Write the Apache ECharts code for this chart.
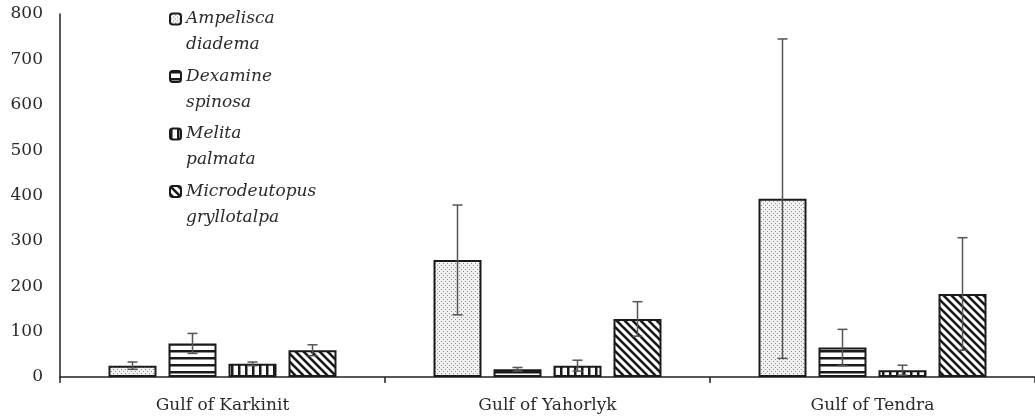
<!DOCTYPE html>
<html>
<head>
<meta charset="utf-8">
<script src="https://cdn.jsdelivr.net/npm/echarts@6/dist/echarts.min.js"></script>
<style>
html,body{margin:0;padding:0;background:#fff;}
#chart{width:1035px;height:420px;}
</style>
</head>
<body>
<div id="chart"></div>
<script>
const categories = ['Gulf of Karkinit', 'Gulf of Yahorlyk', 'Gulf of Tendra'];
const seriesNames = ['Ampelisca diadema', 'Dexamine spinosa', 'Melita palmata', 'Microdeutopus gryllotalpa'];
const ampelisca = [25, 258, 393];
const dexamine = [74, 17, 65];
const melita = [29, 25, 15];
const microdeutopus = [59, 128, 183];
const ampeliscaSd = [8, 121, 352];
const dexamineSd = [22, 4, 40];
const melitaSd = [4, 12, 11];
const microdeutopusSd = [12, 38, 124];
const yTicks = [0, 100, 200, 300, 400, 500, 600, 700, 800];

const values = [ampelisca, dexamine, melita, microdeutopus];
const sds = [ampeliscaSd, dexamineSd, melitaSd, microdeutopusSd];

function makePattern(kind) {
  const c = document.createElement('canvas');
  const ctx = c.getContext('2d');
  if (kind === 'dots') {
    c.width = 4; c.height = 4;
    ctx.fillStyle = '#f2f2f2'; ctx.fillRect(0, 0, 4, 4);
    ctx.fillStyle = '#8a8a8a';
    ctx.fillRect(1, 1, 1, 1); ctx.fillRect(3, 3, 1, 1);
  } else if (kind === 'hstripe') {
    c.width = 6; c.height = 7;
    ctx.fillStyle = '#fff'; ctx.fillRect(0, 0, 6, 7);
    ctx.fillStyle = '#1a1a1a'; ctx.fillRect(0, 0, 6, 2.5);
  } else if (kind === 'vstripe') {
    c.width = 7; c.height = 6;
    ctx.fillStyle = '#fff'; ctx.fillRect(0, 0, 7, 6);
    ctx.fillStyle = '#1a1a1a'; ctx.fillRect(0, 0, 2.5, 6);
  } else {
    const s = 8;
    c.width = s; c.height = s;
    ctx.fillStyle = '#fff'; ctx.fillRect(0, 0, s, s);
    ctx.strokeStyle = '#1a1a1a'; ctx.lineWidth = 2.6;
    ctx.beginPath();
    ctx.moveTo(-s, 0); ctx.lineTo(s, 2 * s);
    ctx.moveTo(0, 0); ctx.lineTo(s, s);
    ctx.moveTo(0, -s); ctx.lineTo(2 * s, s);
    ctx.stroke();
  }
  return { image: c, repeat: 'repeat' };
}
const patterns = [makePattern('dots'), makePattern('hstripe'), makePattern('vstripe'), makePattern('diag')];

const BAR_W = 48, BAR_GAP = 12;
const serif = "'DejaVu Serif', 'Liberation Serif', serif";
const textColor = '#2b2b2b';

const series = [];
seriesNames.forEach((name, i) => {
  series.push({
    name: name,
    type: 'bar',
    barWidth: BAR_W,
    barGap: (BAR_GAP / BAR_W * 100) + '%',
    data: values[i],
    itemStyle: { color: patterns[i], borderColor: '#1a1a1a', borderWidth: 2 },
    emphasis: { disabled: true }
  });
});
seriesNames.forEach((name, i) => {
  series.push({
    name: name + ' error',
    type: 'custom',
    data: values[i].map((v, k) => [k, v, sds[i][k]]),
    z: 5,
    renderItem: function (params, api) {
      const x = api.value(0), v = api.value(1), sd = api.value(2);
      const off = (i - 1.5) * (BAR_W + BAR_GAP);
      const top = api.coord([x, v + sd]);
      const bot = api.coord([x, Math.max(v - sd, 0)]);
      const cx = top[0] + off;
      const half = 5;
      const st = { stroke: '#555', lineWidth: 1.5 };
      return {
        type: 'group',
        children: [
          { type: 'line', shape: { x1: cx, y1: top[1], x2: cx, y2: bot[1] }, style: st },
          { type: 'line', shape: { x1: cx - half, y1: top[1], x2: cx + half, y2: top[1] }, style: st },
          { type: 'line', shape: { x1: cx - half, y1: bot[1], x2: cx + half, y2: bot[1] }, style: st }
        ]
      };
    }
  });
});

const legendText = { fontFamily: serif, fontStyle: 'italic', fontSize: 17, color: textColor, lineHeight: 26 };
const legendBase = {
  data: seriesNames,
  orient: 'vertical',
  left: 164,
  itemWidth: 11,
  itemHeight: 11,
  itemGap: 31.5,
  selectedMode: false,
  textStyle: legendText
};

const chart = echarts.init(document.getElementById('chart'));
chart.setOption({
  animation: false,
  backgroundColor: '#fff',
  grid: { left: 60, right: 0, top: 14, bottom: 43, containLabel: false },
  legend: [
    Object.assign({}, legendBase, { top: 1, formatter: n => n.split(' ')[0] }),
    Object.assign({}, legendBase, { top: 27, formatter: n => n.split(' ')[1], itemStyle: { opacity: 0 } })
  ],
  xAxis: {
    type: 'category',
    data: categories,
    axisLine: { lineStyle: { color: '#222', width: 1.5 } },
    axisTick: { show: true, length: 6, lineStyle: { color: '#222', width: 1.5 } },
    axisLabel: { fontFamily: serif, fontSize: 17, color: textColor, margin: 20 }
  },
  yAxis: {
    type: 'value',
    min: 0, max: 800, interval: 100,
    splitLine: { show: false },
    axisLine: { show: true, lineStyle: { color: '#222', width: 1.5 } },
    axisTick: { show: false },
    axisLabel: { fontFamily: serif, fontSize: 17, color: textColor, margin: 17,
      formatter: v => yTicks.includes(v) ? String(v) : '' }
  },
  series: series
});
</script>
</body>
</html>
